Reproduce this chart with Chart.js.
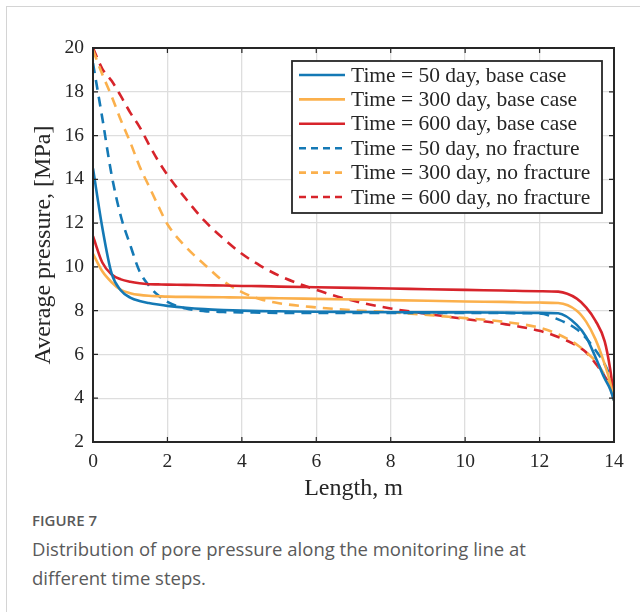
<!DOCTYPE html>
<html>
<head>
<meta charset="utf-8">
<script src="https://cdn.jsdelivr.net/npm/chart.js@4.4.1/dist/chart.umd.min.js"></script>
<style>
  body { margin: 0; background: #fff; }
  #frame {
    position: absolute; left: 6px; top: 6px; width: 640px; height: 620px;
    border-left: 1px solid #d4d4d4; border-top: 1px solid #d4d4d4;
  }
  #wrap { position: absolute; left: 0; top: 0; width: 640px; height: 500px; }
  #caption {
    position: absolute; left: 32px; top: 509px; width: 530px;
    font-family: "Open Sans", "Noto Sans", sans-serif; color: #5a5a5a;
  }
  #caption .fig { font-size: 15px; font-weight: 600; line-height: 22px; color: #595959; }
  #caption .txt { font-size: 18.5px; line-height: 29px; margin-top: 3px; }
</style>
</head>
<body>
<div id="frame"></div>
<div id="wrap"><canvas id="chart" width="640" height="500"></canvas></div>
<div id="caption">
  <div class="fig">FIGURE 7</div>
  <div class="txt">Distribution of pore pressure along the monitoring line at different time steps.</div>
</div>
<script>
// length along the monitoring line, m
const lengthM = [0, 0.25, 0.5, 0.75, 1, 1.25, 1.5, 1.75, 2, 2.5, 3, 3.5, 4, 4.5, 5,
  6, 7, 8, 9, 10, 11, 12, 12.5, 13, 13.25, 13.5, 13.75, 13.9, 14];

// average pressure, MPa
const base50 = [14.5, 11.8, 9.7, 8.92, 8.6, 8.44, 8.35, 8.28, 8.22, 8.13, 8.07, 8.03, 8.0, 7.98, 7.97,
  7.95, 7.94, 7.93, 7.92, 7.92, 7.91, 7.9, 7.88, 7.35, 6.8, 5.88, 4.9, 4.4, 3.9];
const base300 = [10.6, 9.8, 9.3, 8.95, 8.8, 8.72, 8.68, 8.66, 8.64, 8.63, 8.62, 8.61, 8.6, 8.58, 8.57,
  8.54, 8.51, 8.48, 8.45, 8.42, 8.4, 8.37, 8.35, 8.0, 7.5, 6.7, 5.55, 4.7, 3.9];
const base600 = [11.4, 10.2, 9.65, 9.43, 9.32, 9.25, 9.21, 9.2, 9.19, 9.18, 9.16, 9.15, 9.13, 9.12, 9.1,
  9.07, 9.04, 9.01, 8.98, 8.95, 8.92, 8.89, 8.87, 8.55, 8.15, 7.55, 6.6, 5.3, 4.0];
const noFrac50 = [19.3, 16.8, 14.2, 12.3, 11.0, 9.8, 9.15, 8.7, 8.4, 8.1, 7.98, 7.94, 7.92, 7.91, 7.9,
  7.9, 7.9, 7.9, 7.9, 7.89, 7.89, 7.87, 7.6, 7.15, 6.75, 6.2, 5.55, 4.9, 3.9];
const noFrac300 = [19.9, 18.8, 17.8, 16.7, 15.7, 14.6, 13.7, 12.8, 11.95, 10.9, 10.1, 9.35, 8.85, 8.52, 8.34,
  8.15, 8.02, 7.93, 7.8, 7.66, 7.5, 7.22, 6.92, 6.45, 6.1, 5.7, 5.05, 4.55, 3.9];
const noFrac600 = [20.0, 19.05, 18.5, 17.8, 17.05, 16.4, 15.6, 14.85, 14.2, 13.1, 12.1, 11.3, 10.6, 10.05, 9.6,
  8.95, 8.45, 8.1, 7.85, 7.62, 7.4, 7.08, 6.8, 6.4, 6.1, 5.6, 5.0, 4.5, 3.9];

const seriesLabels = [
  "Time = 50 day, base case",
  "Time = 300 day, base case",
  "Time = 600 day, base case",
  "Time = 50 day, no fracture",
  "Time = 300 day, no fracture",
  "Time = 600 day, no fracture"
];
const seriesValues = [base50, base300, base600, noFrac50, noFrac300, noFrac600];
const seriesColors = ["#1479b5", "#fbb04c", "#d7242b", "#1479b5", "#fbb04c", "#d7242b"];
const xTicks = [0, 2, 4, 6, 8, 10, 12, 14];
const yTicks = [2, 4, 6, 8, 10, 12, 14, 16, 18, 20];

const serif = "'Liberation Serif', 'DejaVu Serif', serif";
const textColor = "#262626";

const datasets = seriesValues.map((vals, i) => ({
  label: seriesLabels[i],
  data: vals.map((v, k) => ({ x: lengthM[k], y: v })),
  borderColor: seriesColors[i],
  borderWidth: 2.6,
  borderDash: i >= 3 ? [10, 7] : [],
  pointRadius: 0,
  fill: false,
  cubicInterpolationMode: "monotone"
}));

// box round the axes with inward ticks, like the original
const axesBox = {
  id: "axesBox",
  afterDatasetsDraw(chart) {
    const { ctx, chartArea: a, scales } = chart;
    ctx.save();
    ctx.strokeStyle = textColor;
    ctx.lineWidth = 1.2;
    const tl = 5;
    xTicks.forEach(t => {
      const x = scales.x.getPixelForValue(t);
      ctx.beginPath();
      ctx.moveTo(x, a.bottom); ctx.lineTo(x, a.bottom - tl);
      ctx.moveTo(x, a.top); ctx.lineTo(x, a.top + tl);
      ctx.stroke();
    });
    yTicks.forEach(t => {
      const y = scales.y.getPixelForValue(t);
      ctx.beginPath();
      ctx.moveTo(a.left, y); ctx.lineTo(a.left + tl, y);
      ctx.moveTo(a.right, y); ctx.lineTo(a.right - tl, y);
      ctx.stroke();
    });
    ctx.lineWidth = 2;
    ctx.strokeRect(a.left, a.top, a.right - a.left, a.bottom - a.top);
    ctx.restore();
  }
};

// legend box drawn inside the plot, top right
const insideLegend = {
  id: "insideLegend",
  afterDraw(chart) {
    const { ctx } = chart;
    const box = { x: 292, y: 61, w: 310, h: 152 };
    const rowH = 24.4;
    ctx.save();
    ctx.fillStyle = "#fff";
    ctx.fillRect(box.x, box.y, box.w, box.h);
    ctx.strokeStyle = textColor;
    ctx.lineWidth = 1.8;
    ctx.strokeRect(box.x, box.y, box.w, box.h);
    ctx.font = "21.5px " + serif;
    ctx.textBaseline = "middle";
    chart.data.datasets.forEach((ds, i) => {
      const y = box.y + 14 + i * rowH;
      ctx.strokeStyle = ds.borderColor;
      ctx.lineWidth = ds.borderWidth;
      ctx.setLineDash(ds.borderDash.length ? [7, 5] : []);
      ctx.beginPath();
      ctx.moveTo(box.x + 7, y);
      ctx.lineTo(box.x + 53, y);
      ctx.stroke();
      ctx.setLineDash([]);
      ctx.fillStyle = textColor;
      ctx.fillText(ds.label, box.x + 59, y + 1);
    });
    ctx.restore();
  }
};

new Chart(document.getElementById("chart"), {
  type: "line",
  data: { datasets },
  options: {
    responsive: false,
    animation: false,
    devicePixelRatio: 1,
    layout: { padding: { left: 0, top: 48, right: 26, bottom: 0 } },
    plugins: { legend: { display: false }, tooltip: { enabled: false } },
    scales: {
      x: {
        type: "linear",
        min: 0, max: 14,
        afterFit(scale) { scale.height = 58; },
        afterBuildTicks(scale) { scale.ticks = xTicks.map(v => ({ value: v })); },
        grid: { color: "#dedede", lineWidth: 1.3, drawTicks: false },
        border: { display: false },
        ticks: { padding: 8, color: textColor, font: { family: serif, size: 19.5 } },
        title: {
          display: true, text: "Length, m", color: textColor,
          font: { family: serif, size: 24, lineHeight: 1 }, padding: { top: 0, bottom: -1 }
        }
      },
      y: {
        type: "linear",
        min: 2, max: 20,
        afterFit(scale) { scale.width = 93; },
        afterBuildTicks(scale) { scale.ticks = yTicks.map(v => ({ value: v })); },
        grid: { color: "#dedede", lineWidth: 1.3, drawTicks: false },
        border: { display: false },
        ticks: { padding: 9, color: textColor, font: { family: serif, size: 19.5 } },
        title: {
          display: true, text: "Average pressure, [MPa]", color: textColor,
          font: { family: serif, size: 24, lineHeight: 1 }, padding: { top: 32, bottom: 0 }
        }
      }
    }
  },
  plugins: [axesBox, insideLegend]
});
</script>
</body>
</html>
